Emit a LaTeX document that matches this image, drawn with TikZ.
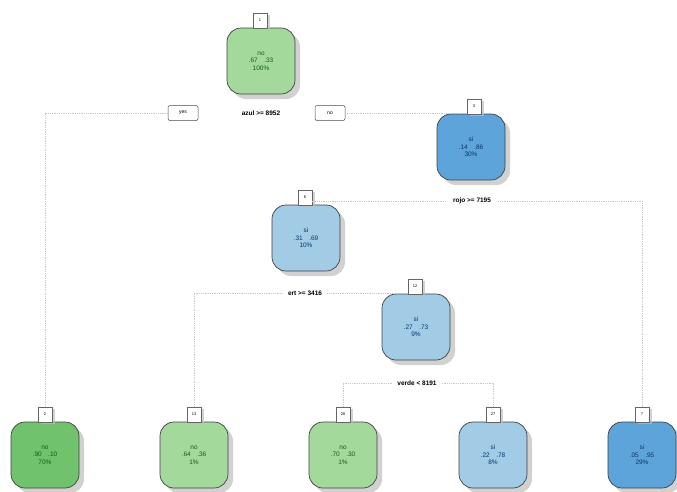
\documentclass[tikz,border=0pt]{standalone}
\usepackage{fontspec}
\setmainfont{Liberation Sans}
\usetikzlibrary{shadows}
\definecolor{gA}{RGB}{163,218,156}
\definecolor{gB}{RGB}{112,194,108}
\definecolor{bA}{RGB}{92,164,218}
\definecolor{bB}{RGB}{162,203,230}
\definecolor{gT}{RGB}{20,90,20}
\definecolor{bT}{RGB}{10,50,110}
\definecolor{lineC}{RGB}{200,200,200}
\tikzset{
  treenode/.style={draw=black!75, line width=0.7pt, rounded corners=14pt,
    minimum width=68pt, minimum height=66pt, align=center,
    font=\fontsize{6.5}{7.5}\selectfont,
    drop shadow={shadow xshift=5pt, shadow yshift=-5pt, fill=black!30, opacity=0.6}},
  gnode/.style={treenode, fill=gA, text=gT},
  gdnode/.style={treenode, fill=gB, text=gT},
  bnode/.style={treenode, fill=bA, text=bT},
  blnode/.style={treenode, fill=bB, text=bT},
  numbox/.style={draw=black!60, fill=white, line width=0.5pt, minimum width=14pt,
    minimum height=15pt, inner sep=0pt, font=\fontsize{4}{5}\selectfont,
    drop shadow={shadow xshift=3pt, shadow yshift=-2pt, fill=black!25, opacity=0.7}},
  ynbox/.style={draw=black!70, fill=white, line width=0.5pt, rounded corners=2pt,
    minimum width=30pt, minimum height=15pt, inner sep=0pt, font=\fontsize{5}{6}\selectfont},
  splitlab/.style={font=\bfseries\fontsize{6.5}{7}\selectfont, inner sep=1pt},
  branch/.style={draw=lineC, densely dotted, line width=0.8pt}
}
\begin{document}
\begin{tikzpicture}[x=1pt,y=-1pt]
\useasboundingbox (0,0) rectangle (677,491);
% internal nodes
\node[gnode] (n1) at (261,61) {no\\.67\quad.33\\100\%};
\node[numbox, anchor=south] (l1) at (260,28) {1};
\node[bnode] (n3) at (471,147) {si\\.14\quad.86\\30\%};
\node[numbox, anchor=south] (l3) at (474,114) {3};
\node[blnode] (n6) at (306,238) {si\\.31\quad.69\\10\%};
\node[numbox, anchor=south] (l6) at (305,205) {6};
\node[blnode] (n12) at (416,327) {si\\.27\quad.73\\9\%};
\node[numbox, anchor=south] (l12) at (415,294) {12};
% leaves
\node[gdnode] (n2) at (45,455) {no\\.90\quad.10\\70\%};
\node[numbox, anchor=south] (l2) at (45,422) {2};
\node[gnode] (n13) at (194,455) {no\\.64\quad.36\\1\%};
\node[numbox, anchor=south] (l13) at (194,422) {13};
\node[gnode] (n26) at (343,455) {no\\.70\quad.30\\1\%};
\node[numbox, anchor=south] (l26) at (343,422) {26};
\node[blnode] (n27) at (493,455) {si\\.22\quad.78\\8\%};
\node[numbox, anchor=south] (l27) at (493,422) {27};
\node[bnode] (n7) at (642,455) {si\\.05\quad.95\\29\%};
\node[numbox, anchor=south] (l7) at (642,422) {7};
% split labels
\node[splitlab] (s1) at (261,113) {azul >= 8952};
\node[ynbox] (yes) at (183,113) {yes};
\node[ynbox] (no) at (330,113) {no};
\node[splitlab] (s3) at (472,201) {rojo >= 7195};
\node[splitlab] (s6) at (305,293) {ert >= 3416};
\node[splitlab] (s12) at (417,383) {verde < 8191};
% branches
\path[branch] (yes.west) -| (l2.north);
\path[branch] (no.east) -- (no.east -| l3.west);
\path[branch] (s3.west) ++(-6,0) -- (s3.west -| l6.east);
\path[branch] (s3.east) ++(6,0) -| (l7.north);
\path[branch] (s6.west) ++(-4,0) -| (l13.north);
\path[branch] (s6.east) ++(4,0) -- (s6.east -| l12.west);
\path[branch] (s12.west) ++(-4,0) -| (l26.north);
\path[branch] (s12.east) ++(4,0) -| (l27.north);
\end{tikzpicture}
\end{document}
